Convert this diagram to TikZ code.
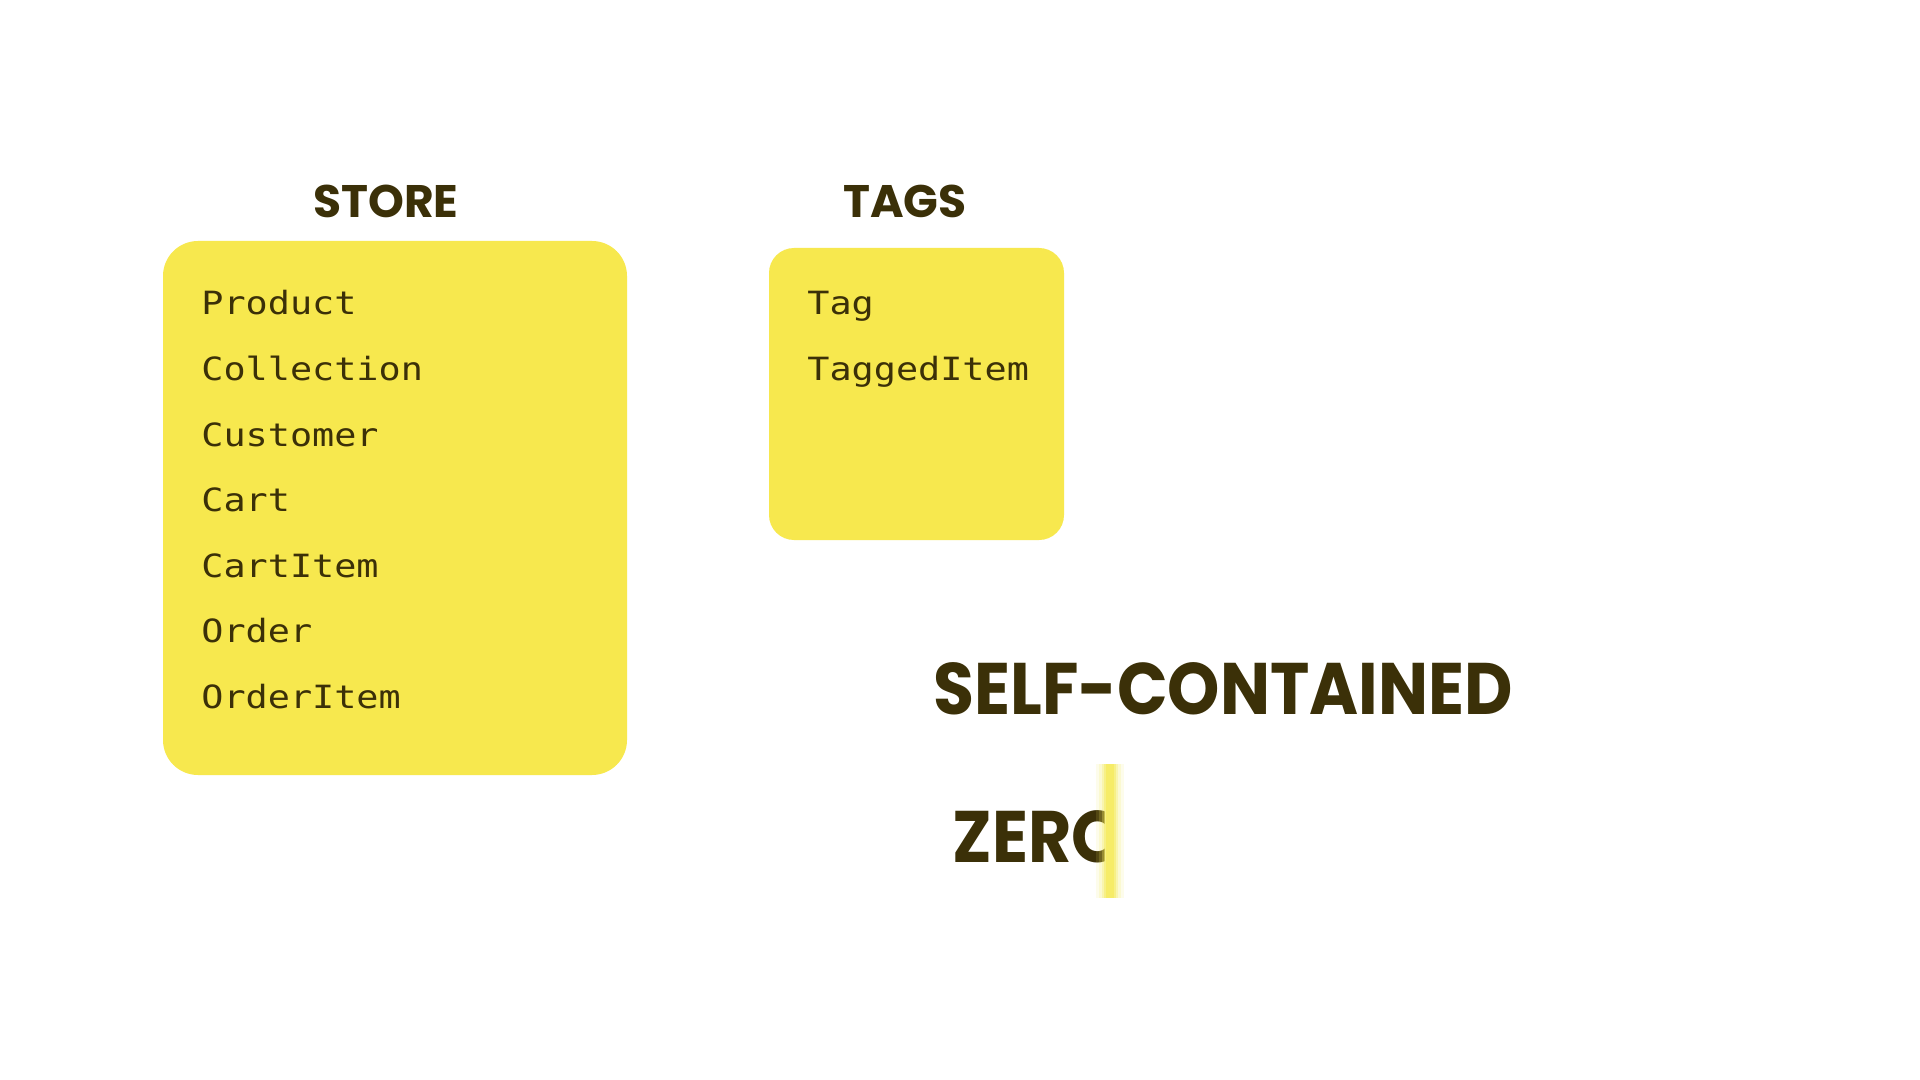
\documentclass[tikz,border=0pt]{standalone}
\usepackage{fontspec}
\newfontfamily\headfont{Poppins}[BoldFont=* Bold]
\newfontfamily\narrowfont{Poppins}[BoldFont=* Bold,BoldFeatures={FakeStretch=0.912},FakeStretch=0.912]
\newfontfamily\codefont{DejaVu Sans Mono}[FakeStretch=1.15]
\definecolor{ink}{HTML}{3B3008}
\definecolor{note}{HTML}{F7E84E}
\definecolor{caret}{HTML}{F6EC60}
\begin{document}
\begin{tikzpicture}[x=0.5pt,y=-0.5pt,
  panel/.style={fill=note,draw=none,rounded corners=#1,inner sep=0pt},
  title/.style={text=ink,font=\headfont\bfseries\fontsize{22.8pt}{26pt}\selectfont,inner sep=0pt,anchor=base},
  big/.style={text=ink,font=\narrowfont\bfseries\fontsize{36.5pt}{40pt}\selectfont,inner sep=0pt,anchor=base west},
  entry/.style={text=ink,font=\codefont\fontsize{16pt}{18pt}\selectfont,inner sep=0pt,anchor=base west}]
\useasboundingbox (0,0) rectangle (1920,1080);
\fill[white] (0,0) rectangle (1920,1080);

% module boxes
\node[panel=17.5pt,minimum width=232pt,minimum height=267pt] (store) at (395,508) {};
\node[panel=12.5pt,minimum width=147.5pt,minimum height=146pt] (tags) at (916.5,394) {};

% module titles
\node[title] (storetitle) at (386,218) {STORE};
\node[title] (tagstitle) at (905,218) {TAGS};

% models of the store app
\foreach \name [count=\i from 0] in {Product,Collection,Customer,Cart,CartItem,Order,OrderItem}
  \node[entry] (s\i) at (201,315+65.5*\i) {\name};

% models of the tags app
\node[entry] (t0) at (807,315) {Tag};
\node[entry] (t1) at (807,380.5) {TaggedItem};

% property headline
\node[big] (self) at (933,714) {SELF-CONTAINED};

% word being typed, cut at the caret
\begin{scope}
  \clip (900,760) rectangle (1104,900);
  \node[big] (zero) at (952,862) {ZERO};
\end{scope}

% soft blinking caret
\foreach \w/\o in {14/0.12,11/0.18,8/0.3,6/0.5,4/0.8}
  \fill[caret,opacity=\o] (1109.5-\w,764) rectangle (1109.5+\w,898);
\end{tikzpicture}
\end{document}
